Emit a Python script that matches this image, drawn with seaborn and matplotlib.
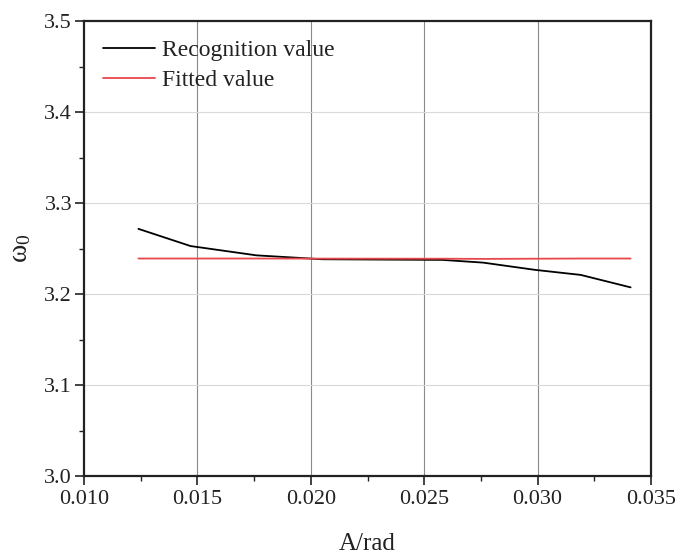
import numpy as np
import pandas as pd
import matplotlib
matplotlib.use("Agg")
import matplotlib.pyplot as plt
from matplotlib.ticker import MultipleLocator, FormatStrFormatter
import seaborn as sns

# Amplitude (rad) and identified natural frequency
amplitude = [0.0124, 0.0147, 0.0176, 0.0205, 0.0258, 0.0276, 0.0299, 0.0319, 0.0341]
recognition = [3.2716, 3.2527, 3.2425, 3.2382, 3.2375, 3.2345, 3.2265, 3.2210, 3.2073]
fitted = [3.2390, 3.2390, 3.2390, 3.2389, 3.2388, 3.2386, 3.2388, 3.2390, 3.2390]

series_names = ["Recognition value", "Fitted value"]
series_colors = ["#000000", "#e8474c"]

df = pd.DataFrame({
    "A": amplitude * 2,
    "w": recognition + fitted,
    "series": [series_names[0]] * len(amplitude) + [series_names[1]] * len(amplitude),
})

sns.set_theme(style="white")
plt.rcParams["font.family"] = ["Liberation Serif", "DejaVu Serif"]
plt.rcParams["mathtext.fontset"] = "custom"
plt.rcParams["mathtext.rm"] = "Liberation Serif"
plt.rcParams["mathtext.it"] = "Liberation Serif:italic"

fig = plt.figure(figsize=(6.79, 5.53), dpi=100)
ax = fig.add_axes([0.1237, 0.1392, 0.9588 - 0.1237, 0.962 - 0.1392])

sns.lineplot(data=df, x="A", y="w", hue="series", palette=series_colors,
             linewidth=1.3, ax=ax, sort=False)

ax.set_xlim(0.010, 0.035)
ax.set_ylim(3.0, 3.5)
ax.xaxis.set_major_locator(MultipleLocator(0.005))
ax.xaxis.set_minor_locator(MultipleLocator(0.0025))
ax.yaxis.set_major_locator(MultipleLocator(0.1))
ax.yaxis.set_minor_locator(MultipleLocator(0.05))
ax.xaxis.set_major_formatter(FormatStrFormatter("%.3f"))
ax.yaxis.set_major_formatter(FormatStrFormatter("%.1f"))

ax.grid(False)
for xv in np.arange(0.015, 0.0349, 0.005):
    ax.axvline(xv, color="#8a8a8a", linewidth=0.8, zorder=0)
for yv in np.arange(3.1, 3.49, 0.1):
    ax.axhline(yv, color="#d9d9d9", linewidth=0.8, zorder=0)

for side in ["left", "bottom", "top", "right"]:
    ax.spines[side].set_visible(True)
    ax.spines[side].set_color("#222222")
    ax.spines[side].set_linewidth(1.6)

ax.tick_params(axis="both", which="major", direction="out", length=6.5, width=1.2,
               labelsize=16, colors="#222222", pad=2,
               bottom=True, left=True, top=False, right=False)
ax.tick_params(axis="x", which="major", pad=3.5)
ax.tick_params(axis="both", which="minor", direction="out", length=3.5, width=1.0,
               colors="#222222", bottom=True, left=True, top=False, right=False)

ax.set_xlabel("A/rad", fontsize=18, labelpad=17, color="#222222")
ax.set_ylabel(r"$\mathrm{\omega}_0$", fontsize=20, labelpad=8, color="#222222")

leg = ax.legend(loc="upper left", frameon=False, fontsize=17, handlelength=2.2,
                borderaxespad=0.6, borderpad=0.2, labelspacing=0.35, handletextpad=0.3)
for text in leg.get_texts():
    text.set_color("#222222")

fig.savefig("out.png", dpi=100)
